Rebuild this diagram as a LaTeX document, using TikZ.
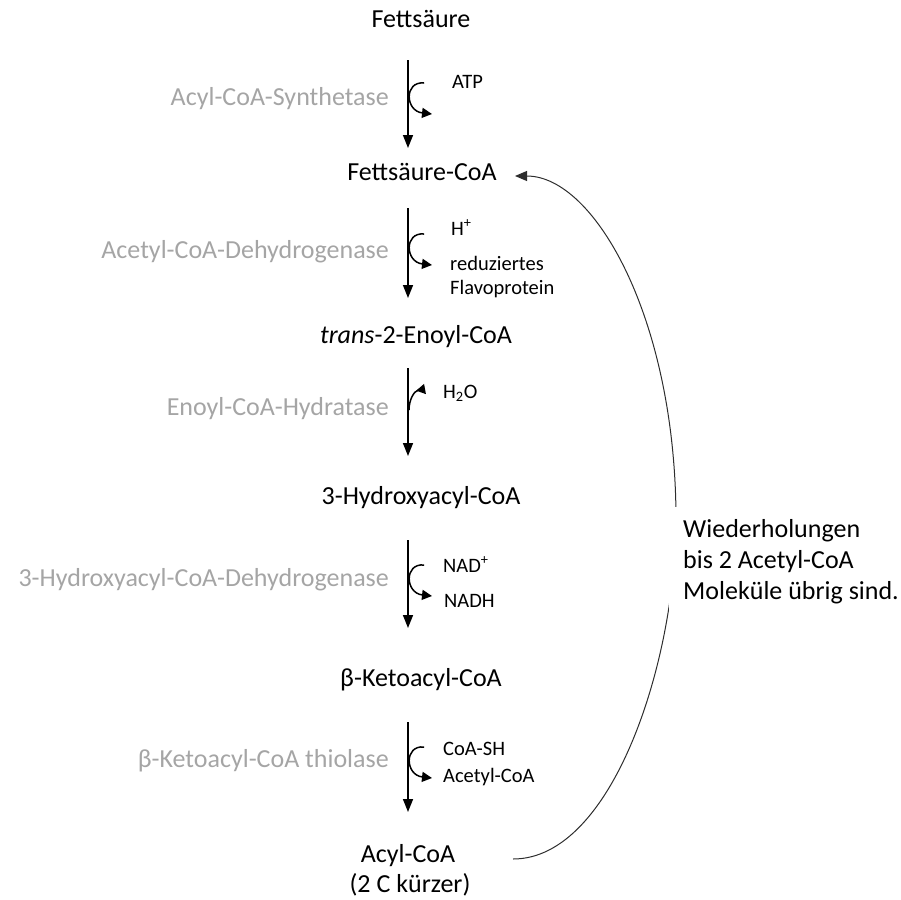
\documentclass[tikz,border=0pt]{standalone}
\usepackage{fontspec}
\setmainfont{Carlito}
\usetikzlibrary{arrows.meta}
\definecolor{enzgray}{RGB}{165,165,165}
\definecolor{loopgray}{RGB}{45,45,45}

\begin{document}
\begin{tikzpicture}[x=1pt,y=-1pt,
  metab/.style={inner sep=0pt, anchor=base, font=\fontsize{26}{31}\selectfont},
  enzyme/.style={inner sep=0pt, anchor=base east, text=enzgray, font=\fontsize{26}{31}\selectfont},
  cofactor/.style={inner sep=0pt, anchor=base west, font=\fontsize{20.5}{24.5}\selectfont},
  stepline/.style={line width=1.5pt, -{Triangle[length=13pt,width=10pt]}},
  hook/.style={line width=1.5pt, -{Triangle[length=10pt,width=10pt]}},
  inhook/.style={line width=1.5pt, {Triangle[reversed,length=9pt,width=10pt]}-},
  loop/.style={line width=1pt, draw=loopgray, -{Triangle[length=12pt,width=10pt]}}]

\useasboundingbox (0,0) rectangle (901,899);

% metabolites
\node[metab] (fs)      at (421,28)  {Fettsäure};
\node[metab] (fcoa)    at (422,180) {Fettsäure-CoA};
\node[metab] (enoyl)   at (416,343) {\textit{trans}-2-Enoyl-CoA};
\node[metab] (hydroxy) at (421,504) {3-Hydroxyacyl-CoA};
\node[metab] (keto)    at (421,686) {β-Ketoacyl-CoA};
\node[metab] (acyl)    at (408,862) {Acyl-CoA};
\node[metab] (short)   at (410,892) {(2 C kürzer)};

% enzymes
\node[enzyme] (e1) at (389,105) {Acyl-CoA-Synthetase};
\node[enzyme] (e2) at (389,258) {Acetyl-CoA-Dehydrogenase};
\node[enzyme] (e3) at (389,415) {Enoyl-CoA-Hydratase};
\node[enzyme] (e4) at (389,586) {3-Hydroxyacyl-CoA-Dehydrogenase};
\node[enzyme] (e5) at (389,767) {β-Ketoacyl-CoA thiolase};

% cofactors
\node[cofactor] (atp)   at (452,88)  {ATP};
\node[cofactor] (hplus) at (451,235) {H\textsuperscript{+}};
\node[cofactor] (red)   at (450,270) {reduziertes};
\node[cofactor] (flavo) at (450,294) {Flavoprotein};
\node[cofactor] (water) at (443,398) {H\textsubscript{2}O};
\node[cofactor] (nad)   at (443,572) {NAD\textsuperscript{+}};
\node[cofactor] (nadh)  at (444,607) {NADH};
\node[cofactor] (coash) at (443,755) {CoA-SH};
\node[cofactor] (acet)  at (443,782) {Acetyl-CoA};

% reaction arrows
\coordinate (a1s) at (408,60);  \coordinate (a1e) at (408,148);
\coordinate (a2s) at (408,208); \coordinate (a2e) at (408,298);
\coordinate (a3s) at (408,368); \coordinate (a3e) at (408,456);
\coordinate (a4s) at (408,540); \coordinate (a4e) at (408,628);
\coordinate (a5s) at (408,722); \coordinate (a5e) at (408,812);
\foreach \i in {1,...,5} \draw[stepline] (a\i s) -- (a\i e);

% side hooks for co-substrates and co-products
\foreach \i/\y in {1/83, 2/234, 4/565, 5/747} {
  \coordinate (h\i s) at (424,\y);
  \coordinate (h\i e) at (432,\y+31);
  \draw[hook] (h\i s) .. controls (404,\y-2) and (405,\y+28) .. (h\i e);
}
\coordinate (h3s) at (425,389);
\coordinate (h3e) at (409,410);
\draw[inhook] (h3s) .. controls (414,391) and (409,400) .. (h3e);

% recycling loop back to the start
\coordinate (loopstart) at (513,859);
\coordinate (loopend) at (515,176);
\draw[loop] (loopstart) .. controls (613,859) and (676,660) .. (676,520)
  .. controls (676,320) and (595,176) .. (loopend);

\node[anchor=west, fill=white, inner xsep=14pt, inner ysep=13pt, align=left,
  font=\fontsize{26}{31}\selectfont] (loopnote) at (669,562)
  {Wiederholungen\\bis 2 Acetyl-CoA\\Moleküle übrig sind.};
\end{tikzpicture}
\end{document}
